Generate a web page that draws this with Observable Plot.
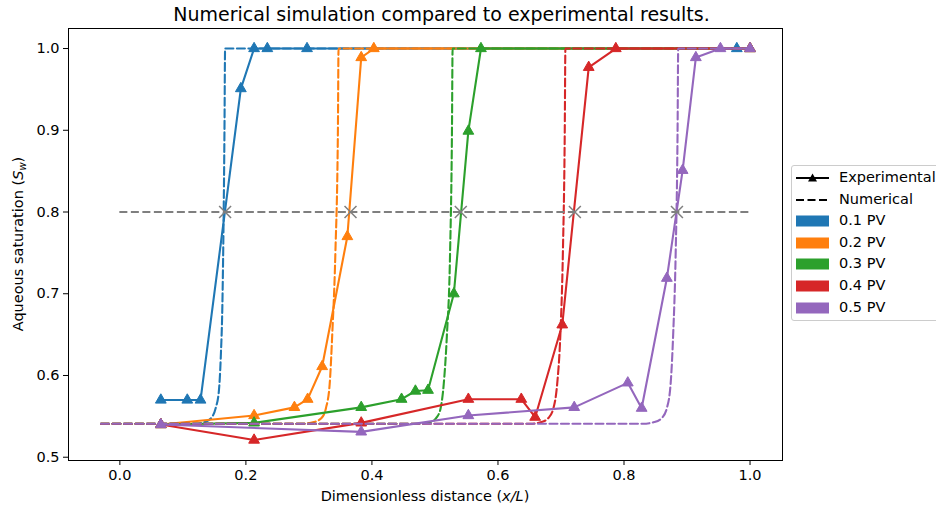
<!DOCTYPE html>
<html><head><meta charset="utf-8">
<script src="https://cdn.jsdelivr.net/npm/d3@7"></script>
<script src="https://cdn.jsdelivr.net/npm/@observablehq/plot@0.6"></script>
<style>
html,body{margin:0;padding:0;background:#fff;}
#wrap{position:relative;width:936px;height:506px;overflow:hidden;font-family:"DejaVu Sans",sans-serif;}
#legend{position:absolute;left:791px;top:165px;width:170px;height:156px;border:1px solid #cccccc;border-radius:3px;background:#fff;box-sizing:border-box;}
.row{position:absolute;left:0;height:20px;width:170px;}
.row svg{position:absolute;left:4px;top:4px;}
.row span{position:absolute;left:47px;top:0px;font-size:14.5px;line-height:19px;color:#000;white-space:nowrap;}
</style></head>
<body><div id="wrap"><div id="legend"></div></div>
<script>
// ---- data ----
const titleText = "Numerical simulation compared to experimental results.";
const pvLabels = ["0.1 PV", "0.2 PV", "0.3 PV", "0.4 PV", "0.5 PV"];
const pvColors = ["#1f77b4", "#ff7f0e", "#2ca02c", "#d62728", "#9467bd"];
const xTicks = [0.0, 0.2, 0.4, 0.6, 0.8, 1.0];
const yTicks = [0.5, 0.6, 0.7, 0.8, 0.9, 1.0];

// experimental (triangles, solid)
const exp01X = [0.065, 0.107, 0.128, 0.192, 0.213, 0.234, 0.297, 0.979];
const exp01Y = [0.570, 0.570, 0.570, 0.951, 1.000, 1.000, 1.000, 1.000];
const exp02X = [0.065, 0.213, 0.277, 0.298, 0.321, 0.361, 0.383, 0.403, 1.000];
const exp02Y = [0.540, 0.551, 0.561, 0.571, 0.611, 0.770, 0.989, 1.000, 1.000];
const exp03X = [0.065, 0.213, 0.383, 0.447, 0.469, 0.489, 0.530, 0.553, 0.573, 1.000];
const exp03Y = [0.540, 0.542, 0.561, 0.571, 0.581, 0.582, 0.700, 0.899, 1.000, 1.000];
const exp04X = [0.065, 0.213, 0.383, 0.553, 0.637, 0.659, 0.702, 0.744, 0.787, 1.000];
const exp04Y = [0.540, 0.521, 0.542, 0.571, 0.571, 0.549, 0.662, 0.977, 1.000, 1.000];
const exp05X = [0.065, 0.383, 0.553, 0.721, 0.806, 0.828, 0.868, 0.893, 0.914, 0.953, 1.000];
const exp05Y = [0.540, 0.531, 0.551, 0.561, 0.591, 0.560, 0.719, 0.851, 0.989, 1.000, 1.000];

// numerical (dashed)
const num01X = [-0.03, 0.120, 0.135, 0.145, 0.152, 0.157, 0.160, 0.163, 0.166, 0.167, 1.0];
const num01Y = [0.541, 0.541, 0.543, 0.548, 0.560, 0.580, 0.620, 0.700, 0.900, 1.000, 1.0];
const num02X = [-0.03, 0.290, 0.308, 0.320, 0.327, 0.333, 0.337, 0.342, 0.346, 0.347, 1.0];
const num02Y = [0.541, 0.541, 0.543, 0.548, 0.560, 0.590, 0.650, 0.750, 0.900, 1.000, 1.0];
const num03X = [-0.03, 0.475, 0.493, 0.503, 0.509, 0.514, 0.519, 0.524, 0.527, 0.528, 1.0];
const num03Y = [0.541, 0.541, 0.543, 0.549, 0.560, 0.590, 0.650, 0.750, 0.900, 1.000, 1.0];
const num04X = [-0.03, 0.652, 0.669, 0.680, 0.688, 0.694, 0.699, 0.703, 0.706, 0.707, 1.0];
const num04Y = [0.541, 0.541, 0.543, 0.548, 0.560, 0.590, 0.650, 0.750, 0.900, 1.000, 1.0];
const num05X = [-0.03, 0.830, 0.848, 0.860, 0.868, 0.874, 0.878, 0.882, 0.885, 0.886, 1.0];
const num05Y = [0.541, 0.541, 0.543, 0.548, 0.560, 0.590, 0.650, 0.750, 0.900, 1.000, 1.0];

// front markers at Sw = 0.8
const thresholdLevel = 0.8;
const thresholdStart = 0.0;
const thresholdEnd = 1.0;
const frontX = [0.167, 0.366, 0.541, 0.722, 0.884];

// ---- build ----
const expX = [exp01X, exp02X, exp03X, exp04X, exp05X];
const expY = [exp01Y, exp02Y, exp03Y, exp04Y, exp05Y];
const numX = [num01X, num02X, num03X, num04X, num05X];
const numY = [num01Y, num02Y, num03Y, num04Y, num05Y];

const DASH = "8,3.5";
const FS = 14.5;
const marks = [];
pvLabels.forEach((pv, i) => {
  const er = expX[i].map((x, j) => ({pv, x, y: expY[i][j]}));
  const nr = numX[i].map((x, j) => ({pv, x, y: numY[i][j]}));
  marks.push(Plot.line(er, {x: "x", y: "y", stroke: "pv", strokeWidth: 2.1}));
  marks.push(Plot.dot(er, {x: "x", y: "y", stroke: "pv", fill: "pv", symbol: "triangle", r: 4.0, strokeWidth: 1}));
  marks.push(Plot.line(nr, {x: "x", y: "y", stroke: "pv", strokeWidth: 2.1, strokeDasharray: DASH, curve: "monotone-x"}));
});
marks.push(Plot.ruleY([thresholdLevel], {x1: thresholdStart, x2: thresholdEnd, stroke: "#7f7f7f", strokeWidth: 2.1, strokeDasharray: DASH}));
marks.push(Plot.dot(frontX, {x: d => d, y: () => thresholdLevel, symbol: "times", stroke: "#7f7f7f", r: 5.5, strokeWidth: 1.5}));
marks.push(Plot.frame({stroke: "#000", strokeWidth: 1}));
marks.push(Plot.text([titleText], {frameAnchor: "top", lineAnchor: "middle", dy: -14, dx: 16, fontSize: 19, fill: "#000"}));

const chart = Plot.plot({
  width: 936, height: 506,
  marginLeft: 68, marginRight: 154, marginTop: 28, marginBottom: 46,
  style: {fontFamily: "DejaVu Sans", fontSize: FS + "px", color: "#000", background: "#fff"},
  x: {domain: [-0.0815, 1.0515], ticks: xTicks, tickFormat: d => d.toFixed(1), tickSize: 5, tickPadding: 4, label: null},
  y: {domain: [0.496, 1.0245], ticks: yTicks, tickFormat: d => d.toFixed(1), tickSize: 5, tickPadding: 4, label: null},
  color: {domain: pvLabels, range: pvColors},
  marks
});
document.getElementById("wrap").prepend(chart);

// axis labels with italic math parts
const svg = d3.select(chart);
const xs = chart.scale("x"), ys = chart.scale("y");
const cx = (xs.range[0] + xs.range[1]) / 2;
const cy = (ys.range[0] + ys.range[1]) / 2;
const xl = svg.append("text").attr("x", cx).attr("y", 501).attr("text-anchor", "middle")
  .attr("font-size", FS).attr("fill", "#000");
xl.append("tspan").text("Dimensionless distance (");
xl.append("tspan").attr("font-style", "italic").text("x/L");
xl.append("tspan").text(")");
const yl = svg.append("text").attr("transform", `translate(23,${cy}) rotate(-90)`).attr("text-anchor", "middle")
  .attr("font-size", FS).attr("fill", "#000");
yl.append("tspan").text("Aqueous saturation (");
yl.append("tspan").attr("font-style", "italic").text("S");
yl.append("tspan").attr("font-style", "italic").attr("font-size", 10).attr("dy", 3).text("w");
yl.append("tspan").attr("dy", -3).text(")");

// legend
const legend = document.getElementById("legend");
const entries = [
  {label: "Experimental", kind: "exp"},
  {label: "Numerical", kind: "num"},
  ...pvLabels.map((l, i) => ({label: l, kind: "patch", color: pvColors[i]}))
];
entries.forEach((e, i) => {
  const row = document.createElement("div");
  row.className = "row";
  row.style.top = (2 + i * 21.6) + "px";
  let h = "";
  if (e.kind === "exp") h = `<svg width="34" height="12"><line x1="0" y1="6" x2="33" y2="6" stroke="#000" stroke-width="2.1"/><path d="M16.5,1.5 L21,9.5 L12,9.5 Z" fill="#000"/></svg>`;
  else if (e.kind === "num") h = `<svg width="34" height="12"><line x1="0" y1="6" x2="33" y2="6" stroke="#000" stroke-width="2.1" stroke-dasharray="${DASH}"/></svg>`;
  else h = `<svg width="34" height="12"><rect x="0" y="0.5" width="33" height="11" fill="${e.color}"/></svg>`;
  row.innerHTML = h + `<span>${e.label}</span>`;
  legend.appendChild(row);
});
</script></body></html>
